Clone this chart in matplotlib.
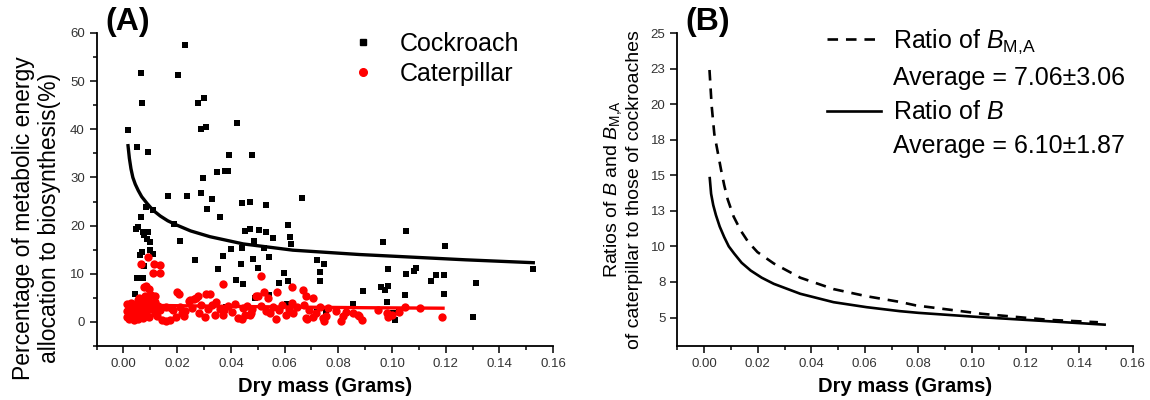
import numpy as np
import matplotlib
matplotlib.use('Agg')
import matplotlib.pyplot as plt
from matplotlib.lines import Line2D
from matplotlib.ticker import MultipleLocator, FixedLocator

plt.rcParams['font.family'] = ['Liberation Sans', 'DejaVu Sans']
plt.rcParams['mathtext.fontset'] = 'custom'
plt.rcParams['mathtext.rm'] = 'Liberation Sans'
plt.rcParams['mathtext.it'] = 'Liberation Sans:italic'

# (A) cockroach points (dry mass, % allocation)
cockroach_x = [0.0017, 0.0066, 0.0069, 0.0051, 0.0090, 0.0228, 0.0204, 0.0279, 0.0300, 0.0290,
               0.0307, 0.0423, 0.0393, 0.0480, 0.0348, 0.0378, 0.0388, 0.0297,
               0.0167, 0.0237, 0.0288, 0.0331, 0.0311, 0.0359, 0.0440, 0.0470, 0.0531, 0.0663,
               0.0188, 0.0212, 0.0268, 0.0351, 0.0369, 0.0402, 0.0440, 0.0437, 0.0452, 0.0470,
               0.0485, 0.0483, 0.0506, 0.0522, 0.0531, 0.0502, 0.0541, 0.0558, 0.0420, 0.0444,
               0.0489, 0.0542, 0.0599, 0.0581, 0.0614, 0.0619, 0.0624, 0.0612, 0.0610, 0.0719,
               0.0748, 0.0731, 0.0733, 0.0856, 0.0380, 0.0721, 0.0754,
               0.0044, 0.0052, 0.0071, 0.0063, 0.0068, 0.0078, 0.0097, 0.0111, 0.0099, 0.0046,
               0.0054, 0.0064, 0.0071, 0.0078, 0.0086, 0.0090, 0.0085, 0.0110,
               0.0893, 0.0968, 0.1053, 0.0986, 0.1052, 0.1081, 0.1090, 0.0960, 0.0974, 0.0986,
               0.0981, 0.1047, 0.1147, 0.1162, 0.1194, 0.1199, 0.1193, 0.1005, 0.1011, 0.1026,
               0.1314, 0.1300, 0.1526]
cockroach_y = [39.8, 51.6, 45.4, 36.4, 35.3, 57.5, 51.3, 45.4, 46.5, 40.0,
               40.5, 41.3, 34.6, 34.6, 31.2, 31.3, 31.3, 29.9,
               26.2, 26.1, 26.8, 25.5, 23.4, 21.7, 24.8, 25.0, 24.2, 25.7,
               20.3, 16.9, 12.9, 11.0, 13.7, 15.2, 15.4, 12.0, 18.8, 19.4,
               16.9, 13.0, 19.1, 15.4, 18.6, 11.3, 13.5, 17.4, 8.7, 7.8,
               5.0, 5.5, 10.1, 8.0, 20.1, 17.6, 16.2, 8.6, 3.7, 12.9,
               12.0, 10.3, 8.5, 3.8, 3.0, 2.1, 2.3,
               5.8, 9.2, 9.1, 13.9, 14.6, 11.6, 14.9, 14.1, 16.5, 19.4,
               19.7, 21.7, 18.7, 18.0, 17.2, 18.7, 23.9, 23.2,
               6.5, 16.7, 18.9, 10.9, 10.0, 10.6, 11.2, 7.3, 6.7, 7.4,
               4.1, 5.6, 8.6, 9.7, 9.7, 15.8, 5.7, 1.9, 0.4, 2.0,
               8.0, 1.0, 10.9]

# (A) caterpillar points
caterpillar_x = [0.0012, 0.0015, 0.0013, 0.0020, 0.0022, 0.0025, 0.0028, 0.0030, 0.0033, 0.0036,
                 0.0038, 0.0040, 0.0042, 0.0045, 0.0048, 0.0050, 0.0053, 0.0055, 0.0058, 0.0060,
                 0.0063, 0.0066, 0.0068, 0.0070, 0.0073, 0.0075, 0.0078, 0.0081, 0.0083, 0.0086,
                 0.0088, 0.0091, 0.0094, 0.0097, 0.0100, 0.0104, 0.0108, 0.0112, 0.0116, 0.0119,
                 0.0119, 0.0125, 0.0130, 0.0135,
                 0.0093, 0.0067, 0.0115, 0.0137, 0.0110, 0.0137, 0.0085, 0.0094, 0.0075,
                 0.0143, 0.0159, 0.0174, 0.0195, 0.0217, 0.0226, 0.0186, 0.0160, 0.0178, 0.0199,
                 0.0207, 0.0210, 0.0230, 0.0243, 0.0248, 0.0261, 0.0269, 0.0277, 0.0255, 0.0280,
                 0.0290, 0.0304, 0.0306, 0.0322, 0.0315, 0.0330, 0.0341, 0.0343, 0.0360, 0.0371,
                 0.0372, 0.0375, 0.0390, 0.0405, 0.0415, 0.0427, 0.0440, 0.0445, 0.0452, 0.0460,
                 0.0470, 0.0474, 0.0480, 0.0495, 0.0501, 0.0512, 0.0514, 0.0522, 0.0530, 0.0537,
                 0.0544, 0.0555, 0.0569, 0.0571, 0.0580, 0.0590, 0.0606, 0.0615, 0.0626, 0.0628,
                 0.0631, 0.0645, 0.0668, 0.0674, 0.0678, 0.0680, 0.0683, 0.0690, 0.0705, 0.0707,
                 0.0717, 0.0730, 0.0742, 0.0748, 0.0754, 0.0760, 0.0790, 0.0810, 0.0819, 0.0828,
                 0.0853, 0.0872, 0.0878, 0.0890, 0.0946, 0.0983, 0.0986, 0.1001, 0.1026, 0.1047,
                 0.1106, 0.1186]
caterpillar_y = [3.8, 2.2, 1.0, 0.6, 3.0, 1.5, 4.0, 0.8, 2.5, 3.4,
                 1.2, 0.5, 2.0, 3.8, 1.0, 2.8, 4.5, 0.7, 4.9, 2.2,
                 3.2, 1.5, 4.2, 2.8, 0.9, 3.6, 5.0, 5.3, 2.0, 3.0,
                 4.4, 4.7, 1.1, 3.5, 2.6, 5.6, 3.9, 2.9, 4.1, 5.3,
                 1.9, 1.2, 3.3, 2.4,
                 13.4, 12.0, 12.0, 11.8, 10.1, 10.2, 7.5, 6.8, 7.2,
                 0.4, 0.1, 0.3, 1.1, 1.8, 1.3, 2.5, 3.0, 2.8, 6.2,
                 5.8, 3.2, 2.2, 4.4, 4.6, 4.8, 4.9, 5.3, 2.9, 1.8,
                 3.5, 1.1, 5.8, 5.8, 2.7, 3.6, 1.45, 4.2, 2.6, 7.9,
                 1.45, 2.5, 3.3, 2.1, 3.8, 0.8, 0.6, 2.8, 1.45, 3.3,
                 1.45, 1.9, 2.6, 5.3, 5.3, 3.4, 9.5, 6.3, 2.2, 5.0,
                 1.8, 3.0, 0.6, 6.3, 2.4, 3.5, 1.45, 2.7, 4.0, 7.3,
                 1.8, 3.1, 6.6, 3.5, 0.8, 5.3, 0.6, 2.4, 1.1, 4.9,
                 1.8, 3.0, 0.8, 0.1, 1.3, 2.8, 2.3, 0.1, 1.2, 2.0,
                 1.8, 1.45, 1.3, 0.4, 2.5, 1.8, 1.1, 1.45, 2.0, 3.0,
                 2.9, 1.0]

# (A) fitted curves
fit_cock_x = [0.0017, 0.0022, 0.0028, 0.0035, 0.0044, 0.0055, 0.0068, 0.0088, 0.0110, 0.0137,
              0.0165, 0.0199, 0.0250, 0.0322, 0.0446, 0.0631, 0.0878, 0.1273, 0.1526]
fit_cock_y = [36.6, 34.0, 31.8, 30.0, 28.6, 27.3, 26.0, 24.6, 23.2, 22.0,
              21.0, 20.1, 18.9, 17.7, 16.2, 14.9, 14.0, 12.9, 12.3]
fit_cat_x = [0.0015, 0.03, 0.06, 0.09, 0.119]
fit_cat_y = [3.5, 3.3, 3.1, 2.95, 2.85]

# (B) ratio curves
ratio_bma_x = [0.0020, 0.0028, 0.0038, 0.0050, 0.0063, 0.0075, 0.0088, 0.0110, 0.0137, 0.0165,
               0.0199, 0.0260, 0.0359, 0.0483, 0.0606, 0.0730, 0.0791, 0.1038, 0.1285, 0.1470]
ratio_bma_y = [22.4, 19.9, 17.9, 16.7, 15.4, 14.3, 13.3, 12.1, 11.1, 10.3,
               9.6, 8.8, 7.8, 7.0, 6.5, 6.1, 5.85, 5.26, 4.84, 4.67]
ratio_b_x = [0.0021, 0.0026, 0.0034, 0.0044, 0.0058, 0.0075, 0.0092, 0.0112, 0.0140, 0.0174,
             0.0215, 0.0260, 0.0359, 0.0483, 0.0606, 0.0730, 0.0800, 0.1038, 0.1285, 0.1495]
ratio_b_y = [14.8, 13.7, 12.9, 12.2, 11.4, 10.65, 10.0, 9.5, 8.85, 8.3,
             7.8, 7.37, 6.67, 6.08, 5.73, 5.45, 5.33, 5.02, 4.74, 4.5]

b_ticks = [5, 7.5, 10, 12.5, 15, 17.5, 20, 22.5, 25]
b_ticklabels = ['5', '8', '10', '13', '15', '18', '20', '23', '25']

fig = plt.figure(figsize=(11.5, 4), dpi=100)
ax1 = fig.add_axes([0.084, 0.135, 0.397, 0.7825])
ax2 = fig.add_axes([0.589, 0.135, 0.396, 0.7825])

for ax in (ax1, ax2):
    for s in ('top', 'right'):
        ax.spines[s].set_visible(False)
    for s in ('left', 'bottom'):
        ax.spines[s].set_linewidth(1.3)
    ax.tick_params(which='both', direction='out', width=1.1, labelsize=9.5, labelcolor='#333333')
    ax.tick_params(which='major', length=5)
    ax.tick_params(which='minor', length=3)
    ax.set_xlim(-0.01, 0.16)
    ax.xaxis.set_major_locator(MultipleLocator(0.02))
    ax.xaxis.set_minor_locator(MultipleLocator(0.01))
    ax.xaxis.set_major_formatter(plt.FuncFormatter(lambda v, p: '%.2f' % v))
    ax.set_xlabel('Dry mass (Grams)', fontsize=14.5, fontweight='bold', labelpad=5)

# panel A
ax1.scatter(cockroach_x, cockroach_y, marker='s', s=22, color='black', linewidths=0, zorder=3)
ax1.scatter(caterpillar_x, caterpillar_y, marker='o', s=36, color='#ff0000', linewidths=0, zorder=3)
ax1.plot(fit_cock_x, fit_cock_y, color='black', lw=2.4, zorder=4)
ax1.plot(fit_cat_x, fit_cat_y, color='#ff0000', lw=2.4, zorder=4)
ax1.set_ylim(-5, 60)
ax1.yaxis.set_major_locator(MultipleLocator(10))
ax1.yaxis.set_minor_locator(MultipleLocator(5))
ax1.set_ylabel('Percentage of metabolic energy\nallocation to biosynthesis(%)', fontsize=16.5)
ax1.yaxis.set_label_coords(-0.077, 0.41)

h_a = [Line2D([], [], marker='s', ls='none', color='black', markersize=5),
       Line2D([], [], marker='o', ls='none', color='#ff0000', markersize=5.5)]
ax1.legend(h_a, ['Cockroach', 'Caterpillar'], loc='upper left',
           bbox_to_anchor=(350 / 1150, 0.92), bbox_transform=fig.transFigure,
           frameon=False, fontsize=18, borderpad=0, borderaxespad=0,
           handlelength=1.0, handletextpad=1.0, labelspacing=0.24)

# panel B
ax2.plot(ratio_bma_x, ratio_bma_y, color='black', lw=1.9, ls=(0, (4, 3)))
ax2.plot(ratio_b_x, ratio_b_y, color='black', lw=1.9)
ax2.set_ylim(3, 25)
ax2.yaxis.set_major_locator(FixedLocator(b_ticks))
ax2.set_yticklabels(b_ticklabels)
ax2.set_ylabel('Ratios of $B$ and $B_{\\mathrm{M{,}A}}$\nof caterpillar to those of cockroaches', fontsize=14)
ax2.yaxis.set_label_coords(-0.075, 0.5)

h_b = [Line2D([], [], color='black', lw=1.9, ls=(0, (4, 3))),
       Line2D([], [], ls='none'),
       Line2D([], [], color='black', lw=1.9),
       Line2D([], [], ls='none')]
ax2.legend(h_b, ['Ratio of $B_{\\mathrm{M{,}A}}$', 'Average = 7.06\u00b13.06',
                 'Ratio of $B$', 'Average = 6.10\u00b11.87'],
           loc='upper left', bbox_to_anchor=(827 / 1150, 0.93), bbox_transform=fig.transFigure,
           frameon=False, fontsize=18, borderpad=0, borderaxespad=0,
           handlelength=2.15, handletextpad=0.5, labelspacing=0.4)

fig.text(128 / 1150, 1 - 22 / 400, '(A)', fontsize=23, fontweight='bold', ha='center', va='center')
fig.text(708 / 1150, 1 - 22 / 400, '(B)', fontsize=23, fontweight='bold', ha='center', va='center')

fig.savefig('out.png', dpi=100)
